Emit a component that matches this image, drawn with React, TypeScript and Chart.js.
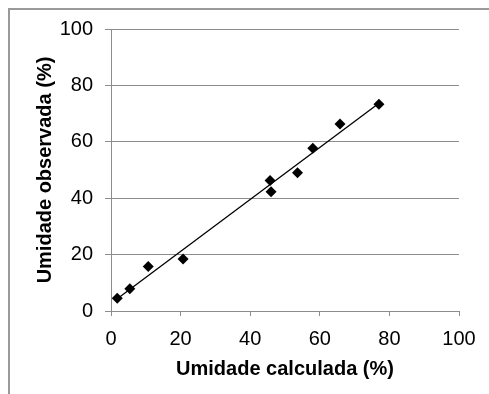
import React, { useEffect, useRef } from "react";
import { Chart, registerables } from "chart.js";

Chart.register(...registerables);

const calculated = [1.8, 5.4, 10.7, 20.7, 45.7, 46.0, 53.6, 58.0, 65.8, 77.0];
const observed = [4.5, 7.9, 15.8, 18.4, 46.3, 42.3, 49.0, 57.7, 66.3, 73.3];
const axisMin = 0;
const axisMax = 100;
const axisStep = 20;
const xTitle = "Umidade calculada (%)";
const yTitle = "Umidade observada (%)";

const FONT = "'Liberation Sans', Arial, Helvetica, sans-serif";

function regression(xs: number[], ys: number[]) {
  const n = xs.length;
  const mx = xs.reduce((a, b) => a + b, 0) / n;
  const my = ys.reduce((a, b) => a + b, 0) / n;
  let sxy = 0;
  let sxx = 0;
  for (let i = 0; i < n; i++) {
    sxy += (xs[i] - mx) * (ys[i] - my);
    sxx += (xs[i] - mx) * (xs[i] - mx);
  }
  const slope = sxy / sxx;
  return { slope, intercept: my - slope * mx };
}

const framePlugin = {
  id: "frame",
  beforeDraw(chart: any) {
    const ctx = chart.ctx;
    ctx.save();
    ctx.fillStyle = "#9a9a9a";
    ctx.fillRect(8, 8, chart.width - 8, 2);
    ctx.fillRect(8, 8, 2, chart.height - 8);
    ctx.restore();
  },
};

export default function App() {
  const ref = useRef<HTMLCanvasElement | null>(null);
  useEffect(() => {
    if (!ref.current) return;
    const points = calculated.map((x, i) => ({ x, y: observed[i] }));
    const { slope, intercept } = regression(calculated, observed);
    const xLo = Math.min(...calculated);
    const xHi = Math.max(...calculated);
    const trend = [
      { x: xLo, y: intercept + slope * xLo },
      { x: xHi, y: intercept + slope * xHi },
    ];
    const chart = new Chart(ref.current, {
      type: "scatter",
      data: {
        datasets: [
          {
            type: "line",
            data: trend,
            borderColor: "#000",
            borderWidth: 1.3,
            pointRadius: 0,
            fill: false,
          } as any,
          {
            data: points,
            pointStyle: "rectRot",
            pointRadius: 5.5,
            backgroundColor: "#000",
            borderColor: "#000",
            borderWidth: 0,
          },
        ],
      },
      options: {
        responsive: false,
        animation: false,
        layout: { padding: { left: 0, right: 30, top: 29, bottom: 0 } },
        plugins: {
          legend: { display: false },
          tooltip: { enabled: false },
        },
        scales: {
          x: {
            type: "linear",
            min: axisMin,
            max: axisMax,
            afterFit: (s: any) => {
              s.height = 83;
            },
            ticks: {
              stepSize: axisStep,
              color: "#000",
              padding: 11,
              font: { family: FONT, size: 20 },
            },
            grid: {
              drawOnChartArea: false,
              drawTicks: true,
              tickLength: 5,
              color: "#8c8c8c",
            },
            border: { color: "#8c8c8c", width: 1 },
            title: {
              display: true,
              text: xTitle,
              color: "#000",
              font: { family: FONT, size: 20, weight: "bold" },
              padding: { top: 0, bottom: 13 },
            },
          },
          y: {
            type: "linear",
            min: axisMin,
            max: axisMax,
            afterFit: (s: any) => {
              s.width = 111;
            },
            ticks: {
              stepSize: axisStep,
              color: "#000",
              padding: 12,
              font: { family: FONT, size: 20 },
            },
            grid: {
              drawOnChartArea: true,
              drawTicks: true,
              tickLength: 6,
              color: "#8c8c8c",
            },
            border: { color: "#8c8c8c", width: 1 },
            title: {
              display: true,
              text: yTitle,
              color: "#000",
              font: { family: FONT, size: 20, weight: "bold" },
              padding: { top: 33, bottom: 0 },
            },
          },
        },
      },
      plugins: [framePlugin],
    });
    return () => chart.destroy();
  }, []);
  return (
    <div style={{ position: "absolute", left: 0, top: 0, width: 489, height: 394, background: "#fff" }}>
      <canvas ref={ref} width={489} height={394} style={{ display: "block" }} />
    </div>
  );
}
